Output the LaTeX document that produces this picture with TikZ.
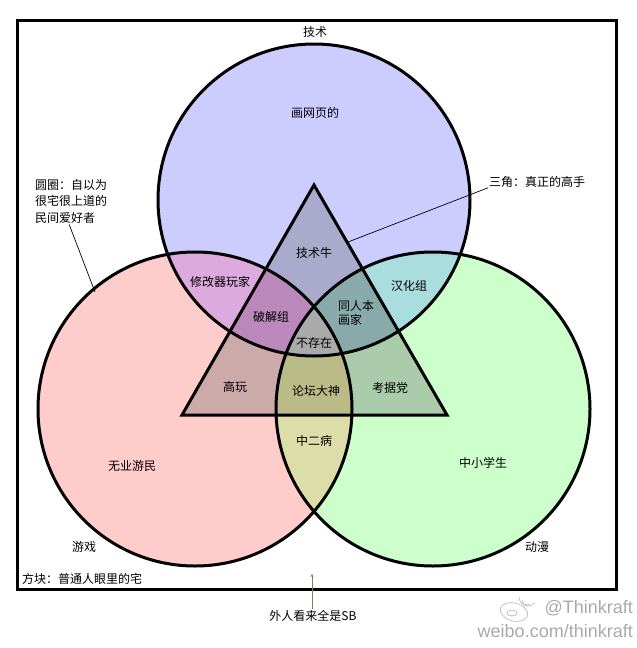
\documentclass[tikz,border=0pt]{standalone}
\usepackage{fontspec}
\setmainfont{Noto Sans CJK SC}
\newfontfamily\latinfont{Liberation Sans}
\usetikzlibrary{arrows.meta}
\definecolor{colT}{HTML}{CCCCFF}
\definecolor{colL}{HTML}{FFCCCC}
\definecolor{colR}{HTML}{CCFFCC}
\definecolor{colTL}{HTML}{DDAADD}
\definecolor{colTR}{HTML}{AADDDD}
\definecolor{colLR}{HTML}{DDDDAA}
\definecolor{colTLR}{HTML}{AAAAAA}
\definecolor{triT}{HTML}{AAAACC}
\definecolor{triL}{HTML}{CCAAAA}
\definecolor{triR}{HTML}{AACCAA}
\definecolor{triTL}{HTML}{BB88BB}
\definecolor{triTR}{HTML}{88AAAA}
\definecolor{triLR}{HTML}{BBBB88}
\definecolor{arrcol}{HTML}{8C7A55}
\definecolor{wmgray}{HTML}{AAAAAA}
\begin{document}
\begin{tikzpicture}[x=1pt,y=-1pt,
  lbl/.style={font=\fontsize{12}{14}\selectfont, inner sep=1pt, text=black},
  outline/.style={draw=black, line width=3pt},
  leader/.style={draw=black, line width=0.7pt},
  wm/.style={font=\latinfont\fontsize{18}{20}\selectfont, text=wmgray, inner sep=0pt, anchor=east}]
\useasboundingbox (0,0) rectangle (637,648);
\fill[white] (0,0) rectangle (637,648);
\def\pT{(314,200) circle[radius=156]}
\def\pL{(195,409) circle[radius=157]}
\def\pR{(433,409) circle[radius=157]}
\def\pTri{(314,185) -- (182,415) -- (447,415) -- cycle}
% base fills
\fill[colT] \pT;
\fill[colL] \pL;
\fill[colR] \pR;
\begin{scope}
  \clip \pT;
  \fill[colTL] \pL;
  \fill[colTR] \pR;
\end{scope}
\begin{scope}
  \clip \pL;
  \fill[colLR] \pR;
\end{scope}
% triangle fills
\begin{scope}
  \clip \pTri;
  \fill[triT] \pT;
  \fill[triL] \pL;
  \fill[triR] \pR;
  \begin{scope}
    \clip \pT;
    \fill[triTL] \pL;
    \fill[triTR] \pR;
  \end{scope}
  \begin{scope}
    \clip \pL;
    \fill[triLR] \pR;
  \end{scope}
  \begin{scope}
    \clip \pT;
    \clip \pL;
    \fill[colTLR] \pR;
  \end{scope}
\end{scope}
% outlines
\draw[outline] \pT;
\draw[outline] \pL;
\draw[outline] \pR;
\draw[outline, line join=miter] \pTri;
% frame
\draw[line width=3pt] (17,20) rectangle (616,589);
% labels
\node[lbl] (tech) at (315,32) {技术};
\node[lbl] (web) at (315,113) {画网页的};
\node[lbl] (niu) at (314,253) {技术牛};
\node[lbl] (mod) at (220,282) {修改器玩家};
\node[lbl] (hanhua) at (409,286) {汉化组};
\node[lbl] (crack) at (271,317) {破解组};
\node[lbl, align=left, font=\fontsize{12}{14}\selectfont] (doujin) at (356,313) {同人本\\画家};
\node[lbl] (none) at (314,343) {不存在};
\node[lbl] (gaowan) at (235,387) {高玩};
\node[lbl] (luntan) at (316,391) {论坛大神};
\node[lbl] (kaoju) at (390,388) {考据党};
\node[lbl] (zhong2) at (314,441) {中二病};
\node[lbl] (wuye) at (132,466) {无业游民};
\node[lbl] (xuesheng) at (483,463) {中小学生};
\node[lbl] (game) at (84,547) {游戏};
\node[lbl] (anime) at (537,547) {动漫};
\node[lbl, anchor=west] (fangkuai) at (21,579) {方块：普通人眼里的宅};
\node[lbl] (sb) at (313,616) {外人看来全是SB};
\node[lbl, anchor=west] (tri) at (488,182) {三角：真正的高手};
\node[lbl, align=left, anchor=north west, font=\fontsize{12}{16.5}\selectfont] (circ) at (34,178) {圆圈：自以为\\很宅很上道的\\民间爱好者};
% leaders
\coordinate (circpt) at (95,292);
\coordinate (tript) at (348,242);
\coordinate (arrtip) at (312,574);
\draw[leader] ([xshift=-2pt]circ.south) -- (circpt);
\draw[leader] ([yshift=1pt]tri.south west) -- (tript);
\draw[draw=arrcol, line width=1pt, -{Stealth[length=3pt,width=3pt]}] ([xshift=-1pt]sb.north) -- (arrtip);
% watermark
\node[wm] (wm1) at (633,608) {@Thinkraft};
\node[wm] (wm2) at (633,631) {weibo.com/thinkraft};
\begin{scope}[draw=wmgray!70, line width=0.8pt]
  \draw[rotate around={-15:(514,612)}] (514,612) ellipse[x radius=14, y radius=9];
  \draw (512,613) ellipse[x radius=5, y radius=3];
  \draw (522,600) arc[start angle=180, end angle=60, radius=5];
  \draw (519,597) arc[start angle=180, end angle=40, radius=9];
\end{scope}
\end{tikzpicture}
\end{document}
